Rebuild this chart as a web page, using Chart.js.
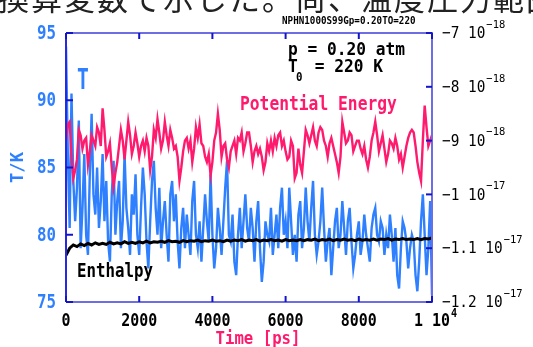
<!DOCTYPE html>
<html><head><meta charset="utf-8">
<script src="https://cdn.jsdelivr.net/npm/chart.js@4"></script>
<style>
html,body{margin:0;padding:0;background:#fff;width:533px;height:347px;overflow:hidden;}
#jp{position:absolute;left:-2px;top:-19px;font-family:"Noto Sans CJK JP";font-size:31px;line-height:31px;color:#222;white-space:nowrap;letter-spacing:2px;z-index:2;}
#c{position:absolute;left:0;top:0;}
</style></head>
<body>
<div id="jp">換算変数で示した。尚、温度圧力範囲は</div>
<canvas id="c" width="533" height="347"></canvas>
<script>
// ---- data (time in ps; energies in units of 1e-18) ----
const timesFine = [0,50,100,150,200,250,300,350,400,450,500,550,600,650,700,750,800,850,900,950,
1000,1050,1100,1150,1200,1250,1300,1350,1400,1450,1500,1550,1600,1650,1700,1750,1800,1850,1900,1950,
2000,2050,2100,2150,2200,2250,2300,2350,2400,2450,2500,2550,2600,2650,2700,2750,2800,2850,2900,2950,
3000,3050,3100,3150,3200,3250,3300,3350,3400,3450,3500,3550,3600,3650,3700,3750,3800,3850,3900,3950,
4000,4050,4100,4150,4200,4250,4300,4350,4400,4450,4500,4550,4600,4650,4700,4750,4800,4850,4900,4950,
5000,5050,5100,5150,5200,5250,5300,5350,5400,5450,5500,5550,5600,5650,5700,5750,5800,5850,5900,5950,
6000,6050,6100,6150,6200,6250,6300,6350,6400,6450,6500,6550,6600,6650,6700,6750,6800,6850,6900,6950,
7000,7050,7100,7150,7200,7250,7300,7350,7400,7450,7500,7550,7600,7650,7700,7750,7800,7850,7900,7950,
8000,8050,8100,8150,8200,8250,8300,8350,8400,8450,8500,8550,8600,8650,8700,8750,8800,8850,8900,8950,
9000,9050,9100,9150,9200,9250,9300,9350,9400,9450,9500,9550,9600,9650,9700,9750,9800,9850,9900,9950,
10000];

const timesCoarse = [0,100,200,300,400,500,600,700,800,900,1000,1100,1200,1300,1400,1500,1600,1700,1800,1900,2000,2100,2200,2300,2400,2500,2600,2700,2800,2900,3000,3100,3200,3300,3400,3500,3600,3700,3800,3900,4000,4100,4200,4300,4400,4500,4600,4700,4800,4900,5000,5100,5200,5300,5400,5500,5600,5700,5800,5900,6000,6100,6200,6300,6400,6500,6600,6700,6800,6900,7000,7100,7200,7300,7400,7500,7600,7700,7800,7900,8000,8100,8200,8300,8400,8500,8600,8700,8800,8900,9000,9100,9200,9300,9400,9500,9600,9700,9800,9900,10000];

// temperature T [K] on timesFine
const temperature = [94,86,80.5,90.5,84,81,83.5,88.5,79,82,86,80,78.5,84.5,89,83,81.5,85,80.5,82.5,
86,81,84,79.5,78,83,85.5,80,82.5,84,79,81,86,82,80.5,78.5,83,81.5,84.5,80,
78.5,82,85,83,79.5,77.5,81,84,85.5,82,80,83.5,79,81,82.5,80,78,83,84,81,
83,79.5,77.5,80.5,82,79,81.5,80,78.5,82.5,84,80,79,81,78,80.5,83,81,79.5,84.5,
80,77.5,79,82,80.5,78.5,81,83.5,85.5,80,79.5,81.5,78,77,80,82,79,81,83,80.5,
79.5,82,80.5,78,81,82.5,79,76.5,78,81,80,79.5,82,78.5,80,81.5,79,82,83.5,80,
81,79,83.5,81,78.5,80,78,81.5,82.5,79,80.5,83.5,81,79.5,82,84,80,78.5,79.5,81,
83.5,80.5,78,79.5,80.5,77,79,81,82,79,80,82.5,80.5,78.5,81,82,79.5,77.5,78.5,80,
81,78.5,79.5,81.5,80,79,78,80.5,81.5,82,80,79.5,81,80.5,78.5,80,79,81.5,80,78,
80.5,77,76,79,81,80.5,79.5,77.5,79,80,79.5,77,75.8,78,81,83,80,77,79,82.5,
75.5];

// potential energy [1e-18] on timesFine
const potentialEnergy = [-9.0,-8.7,-8.65,-9.3,-9.7,-9.55,-9.35,-8.8,-8.9,-9.15,-9.0,-8.95,-9.45,-9.2,-8.9,-9.0,-9.1,-8.75,-8.85,-9.1,
-8.4,-8.8,-9.3,-9.2,-9.05,-9.5,-9.85,-9.6,-9.4,-9.1,-8.8,-9.0,-9.35,-9.0,-8.65,-8.9,-9.25,-9.1,-8.85,-9.05,
-9.3,-9.1,-9.0,-9.2,-8.95,-9.1,-9.55,-9.3,-8.8,-8.95,-8.6,-8.85,-9.15,-9.0,-8.65,-8.9,-9.1,-8.8,-8.95,-9.15,
-9.1,-9.3,-9.75,-9.5,-9.2,-9.0,-8.95,-9.15,-9.0,-9.4,-9.15,-8.75,-8.95,-8.7,-9.05,-9.1,-9.3,-9.4,-9.25,-9.65,
-9.4,-9.0,-8.85,-8.5,-8.8,-9.3,-9.1,-9.05,-9.35,-9.5,-9.2,-9.1,-9.0,-9.25,-8.95,-9.0,-8.85,-9.2,-9.05,-8.85,
-8.85,-9.1,-9.4,-9.2,-9.1,-9.25,-9.15,-9.3,-9.55,-9.4,-9.05,-9.2,-9.0,-9.2,-8.95,-9.1,-8.9,-8.85,-9.1,-9.0,
-9.2,-9.35,-9.3,-9.0,-9.1,-9.7,-9.6,-9.15,-9.45,-9.6,-9.2,-8.8,-8.9,-9.05,-8.9,-8.75,-9.0,-9.1,-8.85,-8.75,
-8.8,-9.0,-9.1,-9.3,-9.05,-8.95,-9.1,-9.25,-9.4,-9.6,-9.3,-8.65,-8.85,-9.05,-9.0,-8.85,-8.9,-9.2,-9.1,-9.0,
-9.0,-9.15,-9.25,-9.1,-9.35,-9.5,-9.3,-9.0,-8.85,-8.65,-8.9,-9.2,-9.05,-8.9,-9.15,-9.4,-9.25,-9.0,-9.05,-9.15,
-8.95,-9.1,-9.35,-9.25,-9.5,-9.3,-9.1,-8.95,-8.85,-8.8,-8.85,-9.1,-9.4,-9.6,-9.75,-9.0,-8.35,-8.75,-9.1,-9.0,
-8.9];

// enthalpy [1e-18] on timesCoarse
const enthalpy = [-11.13,-11.00,-10.94,-10.97,-10.92,-10.95,-10.91,-10.94,-10.90,-10.93,
-10.91,-10.93,-10.89,-10.92,-10.90,-10.92,-10.88,-10.91,-10.89,-10.91,
-10.88,-10.90,-10.87,-10.90,-10.88,-10.89,-10.87,-10.89,-10.86,-10.88,
-10.87,-10.89,-10.86,-10.88,-10.86,-10.87,-10.85,-10.88,-10.86,-10.87,
-10.85,-10.87,-10.86,-10.88,-10.85,-10.87,-10.85,-10.86,-10.84,-10.87,
-10.85,-10.86,-10.84,-10.87,-10.85,-10.86,-10.84,-10.86,-10.85,-10.87,
-10.84,-10.86,-10.85,-10.86,-10.84,-10.86,-10.84,-10.85,-10.83,-10.86,
-10.84,-10.85,-10.83,-10.86,-10.84,-10.85,-10.83,-10.85,-10.84,-10.86,
-10.83,-10.85,-10.84,-10.85,-10.83,-10.85,-10.83,-10.84,-10.82,-10.85,
-10.83,-10.84,-10.82,-10.84,-10.83,-10.84,-10.82,-10.84,-10.82,-10.83,
-10.81];

const xTickValues = [0,2000,4000,6000,8000,10000];
const xTickLabels = ['0','2000','4000','6000','8000','1 10'];
const xTickExp = ['','','','','','4'];
const tTickValues = [75,80,85,90,95];
const tTickLabels = ['75','80','85','90','95'];
const eTickValues = [-7,-8,-9,-10,-11,-12];
const eTickMantissa = ['\u22127 10','\u22128 10','\u22129 10','\u22121 10','\u22121.1 10','\u22121.2 10'];
const eTickExp = ['\u221218','\u221218','\u221218','\u221217','\u221217','\u221217'];

const MONO = '"DejaVu Sans Mono"';
function txt(ctx, s, x, y, size, color, o) {
  o = o || {};
  ctx.save();
  ctx.font = (o.bold === false ? '' : 'bold ') + size + 'px ' + (o.family || MONO);
  ctx.fillStyle = color;
  ctx.textBaseline = 'middle';
  ctx.textAlign = o.align || 'left';
  ctx.translate(x, y);
  if (o.rot) ctx.rotate(o.rot);
  ctx.scale(o.sx || 1, 1);
  ctx.fillText(s, 0, 0);
  const w = ctx.measureText(s).width * (o.sx || 1);
  ctx.restore();
  return w;
}

const deco = {
  id: 'deco',
  afterDraw(chart) {
    const ctx = chart.ctx, a = chart.chartArea;
    const xs = chart.scales.x, yT = chart.scales.yT, yE = chart.scales.yE;
    ctx.save();
    ctx.lineWidth = 2;
    ctx.strokeStyle = 'rgb(110,110,228)';
    ctx.beginPath();
    ctx.moveTo(a.left, a.top); ctx.lineTo(a.right, a.top); ctx.lineTo(a.right, a.bottom); ctx.lineTo(a.left, a.bottom);
    ctx.stroke();
    ctx.strokeStyle = 'rgb(40,40,225)';
    ctx.beginPath(); ctx.moveTo(a.left, a.top); ctx.lineTo(a.left, a.bottom); ctx.stroke();
    ctx.strokeStyle = 'rgb(20,20,200)';
    xTickValues.forEach(v => {
      const px = xs.getPixelForValue(v);
      ctx.beginPath(); ctx.moveTo(px, a.bottom); ctx.lineTo(px, a.bottom - 6); ctx.stroke();
      ctx.beginPath(); ctx.moveTo(px, a.top); ctx.lineTo(px, a.top + 6); ctx.stroke();
    });
    tTickValues.forEach(v => {
      const py = yT.getPixelForValue(v);
      ctx.beginPath(); ctx.moveTo(a.left, py); ctx.lineTo(a.left + 7, py); ctx.stroke();
    });
    eTickValues.forEach(v => {
      const py = yE.getPixelForValue(v);
      ctx.beginPath(); ctx.moveTo(a.right, py); ctx.lineTo(a.right - 6, py); ctx.stroke();
    });
    ctx.restore();

    xTickValues.forEach((v, i) => {
      const px = xs.getPixelForValue(v);
      const w = txt(ctx, xTickLabels[i], px, a.bottom + 19, 18, '#000', {align: 'center', sx: 0.83});
      if (xTickExp[i]) txt(ctx, xTickExp[i], px + w / 2 + 1, a.bottom + 12, 12, '#000', {sx: 0.85});
    });
    tTickValues.forEach((v, i) => {
      const py = yT.getPixelForValue(v);
      txt(ctx, tTickLabels[i], 56, py + 1, 19, '#2f80ff', {align: 'right', sx: 0.83});
    });
    eTickValues.forEach((v, i) => {
      const py = yE.getPixelForValue(v);
      const w = txt(ctx, eTickMantissa[i], 442, py + 1, 16, '#000', {bold: false, sx: 0.9});
      txt(ctx, eTickExp[i], 442 + w + 1, py - 8, 11, '#000', {bold: false, sx: 0.95});
    });
    txt(ctx, 'T/K', 18, (a.top + a.bottom) / 2, 18, '#2f80ff', {align: 'center', rot: -Math.PI / 2, sx: 0.95});
    txt(ctx, 'Time [ps]', 258, 339, 18, '#ff1a6e', {align: 'center', sx: 0.87});
    txt(ctx, 'NPHN1000S99Gp=0.20TO=220', 282, 21, 11, '#000', {sx: 0.84});
    txt(ctx, 'p = 0.20 atm', 288, 50, 18, '#000', {sx: 0.9});
    txt(ctx, 'T', 288, 67, 18, '#000', {sx: 0.9});
    txt(ctx, '0', 296, 78, 12, '#000', {sx: 0.9});
    txt(ctx, ' = 220 K', 305, 67, 18, '#000', {sx: 0.9});
    txt(ctx, 'Potential Energy', 240, 105, 19, '#ff1a6e', {sx: 0.857});
    txt(ctx, 'T', 83, 82, 28, '#2f80ff', {align: 'center', sx: 0.7});
    txt(ctx, 'Enthalpy', 77, 272, 19, '#000', {sx: 0.83});
  }
};

const pts = (xs, ys) => ys.map((y, i) => ({x: xs[i], y: y}));

new Chart(document.getElementById('c'), {
  type: 'line',
  data: {
    datasets: [
      {label: 'Enthalpy', data: pts(timesCoarse, enthalpy), yAxisID: 'yE', borderColor: '#000', borderWidth: 3, pointRadius: 0, tension: 0, order: 0},
      {label: 'Potential Energy', data: pts(timesFine, potentialEnergy), yAxisID: 'yE', borderColor: '#ff1a6e', borderWidth: 2.4, pointRadius: 0, tension: 0, order: 1},
      {label: 'T', data: pts(timesFine, temperature), yAxisID: 'yT', borderColor: '#2f80ff', borderWidth: 2.4, pointRadius: 0, tension: 0, order: 2}
    ]
  },
  options: {
    responsive: false,
    animation: false,
    devicePixelRatio: 1,
    layout: {padding: {top: 33, left: 0, right: 0, bottom: 0}},
    plugins: {legend: {display: false}, tooltip: {enabled: false}, title: {display: false}},
    scales: {
      x: {type: 'linear', min: 0, max: 10000, ticks: {display: false, stepSize: 2000}, grid: {display: false}, border: {display: false}, afterFit(s) { s.height = 45; }},
      yT: {type: 'linear', position: 'left', min: 75, max: 95, ticks: {display: false, stepSize: 5}, grid: {display: false}, border: {display: false}, afterFit(s) { s.width = 66; }},
      yE: {type: 'linear', position: 'right', min: -12, max: -7, ticks: {display: false, stepSize: 1}, grid: {display: false}, border: {display: false}, afterFit(s) { s.width = 101; }}
    }
  },
  plugins: [deco]
});
</script>
</body></html>
